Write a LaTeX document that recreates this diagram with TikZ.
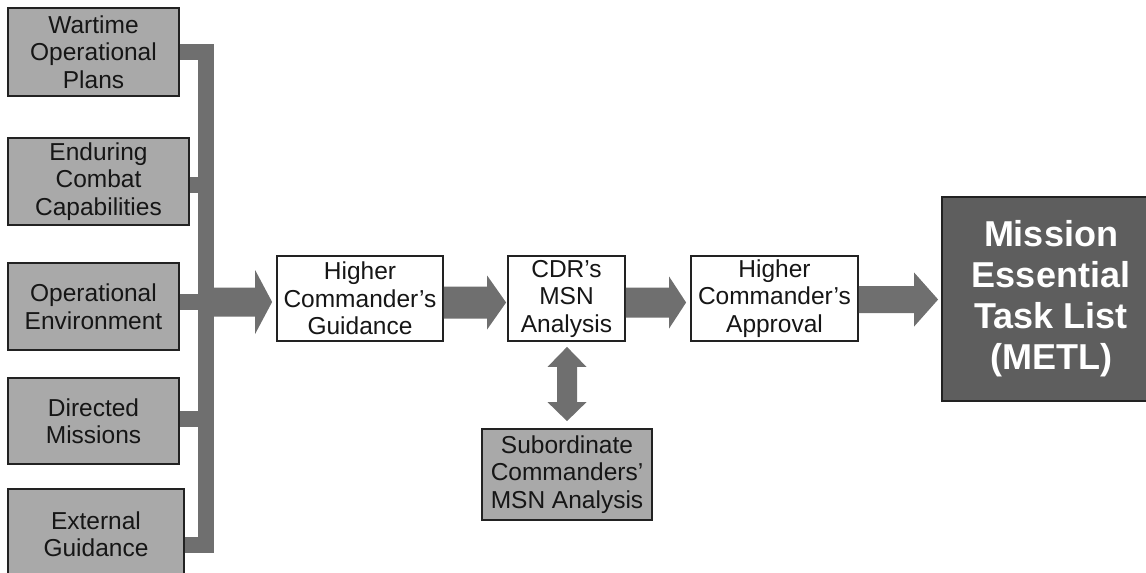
\documentclass[tikz,border=0pt]{standalone}
\usepackage{fontspec}
\setmainfont{Liberation Sans}
\usetikzlibrary{calc}
\definecolor{boxgray}{HTML}{A9A9A9}
\definecolor{arrgray}{HTML}{6F6F6F}
\definecolor{metlgray}{HTML}{5E5E5E}
\definecolor{edge}{HTML}{222222}
\definecolor{ink}{HTML}{161616}
% horizontal fat arrow: start, tip, half shaft, head length, half head
\newcommand\hfat[5]{%
  \fill[arrgray] ($(#1)+(0,-#3)$) -- ($(#2)+(-#4,-#3)$) -- ($(#2)+(-#4,-#5)$) -- (#2)
    -- ($(#2)+(-#4,#5)$) -- ($(#2)+(-#4,#3)$) -- ($(#1)+(0,#3)$) -- cycle;}
\tikzset{
  base/.style={draw=edge, line width=1.8pt, inner sep=0pt, align=center,
    font=\fontsize{24.5}{27.5}\selectfont, text=ink},
  graybox/.style={base, fill=boxgray},
  whitebox/.style={base, fill=white},
  metlbox/.style={draw=edge, line width=1.8pt, fill=metlgray, inner sep=0pt, align=center,
    text=white, font=\fontsize{36}{41}\selectfont\bfseries},
  bus/.style={draw=arrgray, line width=16pt, line join=miter},
}
\begin{document}
\begin{tikzpicture}[x=1pt,y=-1pt]
\useasboundingbox (0,0) rectangle (1146,573);
\clip (0,0) rectangle (1146,573);
% left input boxes
\node[graybox, minimum width=171pt, minimum height=88pt] (w1) at (93.5,52) {Wartime\\Operational\\Plans};
\node[graybox, minimum width=181pt, minimum height=87pt] (w2) at (98.5,181.5) {Enduring\\Combat\\Capabilities};
\node[graybox, minimum width=171pt, minimum height=87pt] (w3) at (93.5,306.5) {Operational\\Environment};
\node[graybox, minimum width=171pt, minimum height=86pt] (w4) at (93.5,421) {Directed\\Missions};
\node[graybox, minimum width=176pt, minimum height=90pt] (w5) at (96,534) {External\\Guidance};
% main flow
\node[whitebox, minimum width=166pt, minimum height=85pt] (g) at (360,298.5) {Higher\\Commander’s\\Guidance};
\node[whitebox, minimum width=117pt, minimum height=85pt] (c) at (566.5,298.5) {CDR’s\\MSN\\Analysis};
\node[whitebox, minimum width=167pt, minimum height=85pt] (a) at (774.5,298.5) {Higher\\Commander’s\\Approval};
\node[graybox, minimum width=170pt, minimum height=91pt] (s) at (567,474.5) {Subordinate\\Commanders’\\MSN Analysis};
\node[metlbox, minimum width=218pt, minimum height=204pt] (m) at (1051,299) {Mission\\Essential\\Task List\\(METL)};
% bus collecting the inputs
\coordinate (bt) at (206,51.5);
\coordinate (bb) at (206,545);
\draw[bus] (w1.east |- bt) -- (bt) -- (bb) -- (w5.east |- bb);
\draw[bus] (w2.east |- 0,185) -- (206,185);
\draw[bus] (w4.east |- 0,418.5) -- (206,418.5);
% fat arrows
\coordinate (a1s) at (206,302);
\coordinate (a1t) at ($(g.west |- a1s)+(-4,0)$);
\hfat{a1s}{a1t}{14.5}{17}{32}
\draw[bus] (w3.east |- a1s) -- (a1s);
\coordinate (a2s) at ($(g.east)+(0,4)$);
\coordinate (a2t) at ($(c.west |- a2s)+(-1,0)$);
\hfat{a2s}{a2t}{16}{19}{27}
\coordinate (a3s) at ($(c.east)+(0,4)$);
\coordinate (a3t) at ($(a.west |- a3s)+(-4,0)$);
\hfat{a3s}{a3t}{15}{17}{26}
\coordinate (a4s) at ($(a.east)+(0,1)$);
\coordinate (a4t) at ($(m.west |- a4s)+(-3,0)$);
\hfat{a4s}{a4t}{13.5}{24}{27}
% double vertical arrow between c and s
\coordinate (dt) at ($(c.south)+(0.5,5)$);
\coordinate (db) at ($(s.north)+(0,-7)$);
\fill[arrgray] (dt) -- ($(dt)+(19.5,20)$) -- ($(dt)+(10,20)$) -- ($(db)+(10,-19)$) -- ($(db)+(19.5,-19)$)
  -- (db) -- ($(db)+(-19.5,-19)$) -- ($(db)+(-10,-19)$) -- ($(dt)+(-10,20)$) -- ($(dt)+(-19.5,20)$) -- cycle;
\end{tikzpicture}
\end{document}
